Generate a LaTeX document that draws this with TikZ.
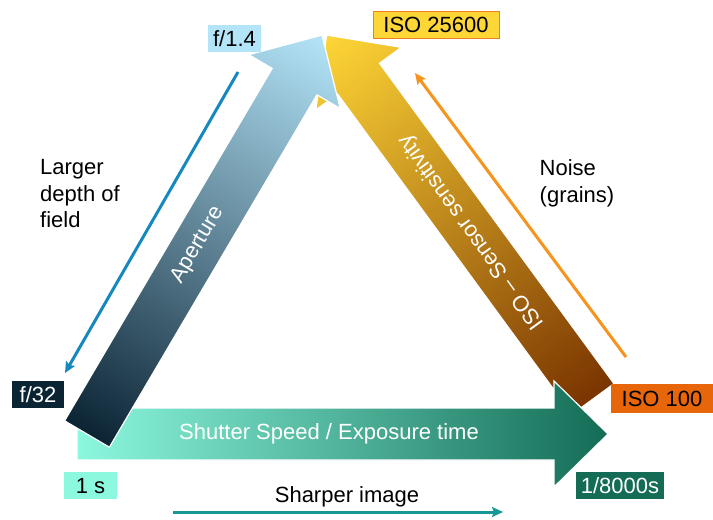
\documentclass[tikz,border=0pt]{standalone}
\usepackage{fontspec}
\setmainfont{Liberation Sans}
\usepackage{tikz}
\usetikzlibrary{arrows.meta}

\definecolor{apdark}{RGB}{11,36,52}
\definecolor{aplight}{RGB}{180,228,248}
\definecolor{shlight}{RGB}{140,248,222}
\definecolor{shdark}{RGB}{20,108,86}
\definecolor{isotail}{RGB}{122,52,0}
\definecolor{isotip}{RGB}{254,214,54}
\definecolor{isoedge}{RGB}{240,128,30}
\definecolor{isotag}{RGB}{232,102,10}
\definecolor{apline}{RGB}{22,136,192}
\definecolor{isoline}{RGB}{247,148,30}
\definecolor{shline}{RGB}{22,152,152}

\tikzstyle{tag}=[
	inner sep=0pt,
	minimum height=27pt,
	text height=16pt,
	text depth=0pt
]
\tikzstyle{note}=[
	align=left,
	anchor=north west,
	inner sep=0pt
]
\tikzstyle{hint}=[
	line width=3pt,
	-{Stealth[length=11pt,width=10pt,inset=2pt]}
]

\begin{document}
\begin{tikzpicture}[x=1pt, y=-1pt, font=\fontsize{22pt}{26.5pt}\selectfont,
    onarrow/.style={text=white, inner sep=0pt}]
\useasboundingbox[fill=white] (0, 0) rectangle (713, 520);

% the three big arrows, tail at (x,y)
\foreach \x/\y/\ang/\len/\tail/\head in {593/399/126.2/451/isotail/isotip,
    77/434/0/531/shlight/shdark, 87/434/59.5/463/apdark/aplight}{
    \begin{scope}[transform canvas={shift={(\x, \y)}, rotate=\ang}]
        \shade[left color=\tail, right color=\head, draw=white, line width=1.2pt]
            (0, -26) -- (\len-54, -26) -- (\len-54, -53) -- (\len, 0)
            -- (\len-54, 53) -- (\len-54, 26) -- (0, 26) -- cycle;
    \end{scope}
}

\node[onarrow, rotate=59.5] at (198, 245) (aplabel) {Aperture};
\node[onarrow] at (329, 434) (shlabel) {Shutter Speed / Exposure time};
\node[onarrow, rotate=125.8] at (472, 232) (isolabel) {ISO -- Sensor sensitivity};

\node[tag, fill=aplight, minimum width=53pt] at (234.5, 38) (f14) {f/1.4};
\node[tag, fill=isotip, draw=isoedge, line width=1pt, minimum width=126pt] at (436, 24.5) (iso25600) {ISO 25600};
\node[tag, fill=apdark, text=white, minimum width=52pt] at (38, 394.5) (f32) {f/32};
\node[tag, fill=isotag, minimum width=102pt, minimum height=29pt] at (662, 398.5) (iso100) {ISO 100};
\node[tag, fill=shlight, minimum width=53pt] at (90.5, 485.5) (s1) {1 s};
\node[tag, fill=shdark, text=white, minimum width=88pt] at (620, 485.5) (s8000) {1/8000s};

\node[note] at (40, 159.5) (dof) {Larger\\depth of\\field};
\node[note] at (539.5, 159.5) (noise) {Noise\\(grains)};
\node[anchor=base, inner sep=0pt] at (347, 502) (sharp) {Sharper image};

\coordinate (dofA) at (238, 72);
\coordinate (dofB) at (65, 373);
\coordinate (noiseA) at (626, 357);
\coordinate (noiseB) at (415, 73);
\coordinate (sharpA) at (173, 512);
\coordinate (sharpB) at (503, 512);
\draw[hint, draw=apline, fill=apline] (dofA) -- (dofB);
\draw[hint, draw=isoline, fill=isoline] (noiseA) -- (noiseB);
\draw[hint, draw=shline, fill=shline] (sharpA) -- (sharpB);
\end{tikzpicture}
\end{document}
